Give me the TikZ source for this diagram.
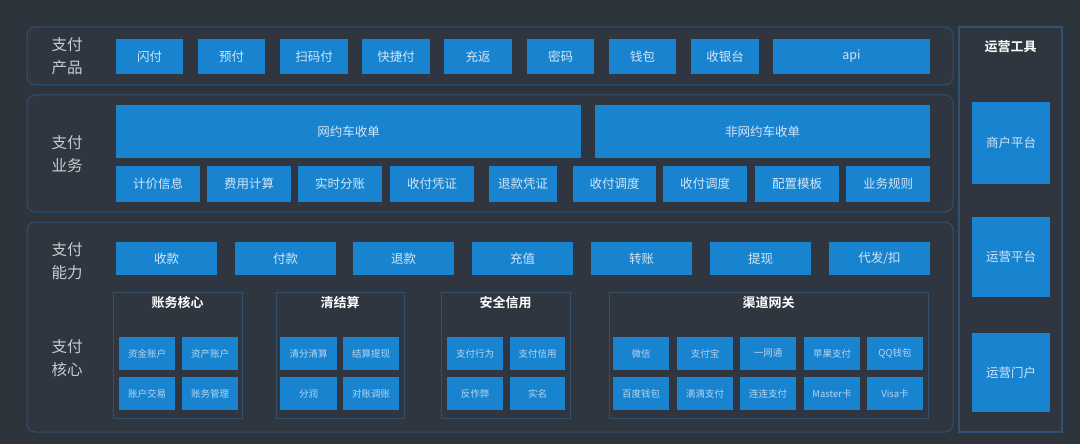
\documentclass[tikz,border=0pt]{standalone}
\usepackage{fontspec}
\setmainfont{Noto Sans CJK SC}
\newfontfamily\cjkb{Noto Sans CJK SC Bold}
\definecolor{bg}{HTML}{2E343C}
\definecolor{pfill}{HTML}{2F363F}
\definecolor{pline}{HTML}{2D5272}
\definecolor{gline}{HTML}{34506A}
\definecolor{bfill}{HTML}{1884D0}
\definecolor{btext}{HTML}{D2E5F6}
\definecolor{ltext}{HTML}{C9CDD2}
\tikzset{
  blk/.style={fill=bfill,text=btext,inner sep=0pt,outer sep=0pt,font=\fontsize{12.5}{14}\selectfont},
  sblk/.style={blk,text=btext!85!bfill,font=\fontsize{9.5}{11}\selectfont},
  panel/.style={draw=pline,line width=1pt,fill=pfill,rounded corners=8pt,inner sep=0pt,outer sep=0pt},
  grp/.style={draw=gline,line width=0.8pt,inner sep=0pt,outer sep=0pt},
  rpanel/.style={draw=pline,line width=1.3pt,fill=pfill,inner sep=0pt,outer sep=0pt},
  lbl/.style={text=ltext,align=center,font=\fontsize{15.5}{23}\selectfont},
  gtitle/.style={text=white,font=\cjkb\fontsize{13}{15}\selectfont},
}
\newcommand\blk[7][blk]{\node[#1,anchor=north west,minimum width={(#5)-(#3)},minimum height={(#6)-(#4)}] (#2) at (#3,#4) {#7};}
\begin{document}
\begin{tikzpicture}[x=1pt,y=-1pt]
\fill[bg] (0,0) rectangle (1080,444);
\useasboundingbox (0,0) rectangle (1080,444);
% panels
\blk[panel]{p1}{27}{27}{953}{85}{}
\blk[panel]{p2}{27}{95}{953}{212}{}
\blk[panel]{p3}{27}{222}{953}{432}{}
\blk[rpanel]{rp}{959}{27}{1062}{432}{}
% labels
\node[lbl] (l1) at (67,56) {支付\\产品};
\node[lbl] (l2) at (67,154) {支付\\业务};
\node[lbl] (l3) at (67,261) {支付\\能力};
\node[lbl] (l4) at (67,358) {支付\\核心};
% row 1
\blk{a1}{116}{39}{183}{74}{闪付}
\blk{a2}{198}{39}{265}{74}{预付}
\blk{a3}{280}{39}{348}{74}{扫码付}
\blk{a4}{362}{39}{430}{74}{快捷付}
\blk{a5}{444}{39}{512}{74}{充返}
\blk{a6}{527}{39}{594}{74}{密码}
\blk{a7}{609}{39}{676}{74}{钱包}
\blk{a8}{691}{39}{759}{74}{收银台}
\blk{a9}{773}{39}{930}{74}{api}
% row 2
\blk{b1}{116}{105}{581}{158}{网约车收单}
\blk{b2}{595}{105}{930}{158}{非网约车收单}
\blk{c1}{116}{166}{200}{202}{计价信息}
\blk{c2}{207}{166}{291}{202}{费用计算}
\blk{c3}{298}{166}{382}{202}{实时分账}
\blk{c4}{390}{166}{474}{202}{收付凭证}
\blk{c5}{489}{166}{557}{202}{退款凭证}
\blk{c6}{573}{166}{656}{202}{收付调度}
\blk{c7}{663}{166}{747}{202}{收付调度}
\blk{c8}{755}{166}{839}{202}{配置模板}
\blk{c9}{846}{166}{930}{202}{业务规则}
% row 3
\blk{d1}{116}{242}{217}{275}{收款}
\blk{d2}{235}{242}{336}{275}{付款}
\blk{d3}{353}{242}{454}{275}{退款}
\blk{d4}{472}{242}{573}{275}{充值}
\blk{d5}{591}{242}{692}{275}{转账}
\blk{d6}{710}{242}{811}{275}{提现}
\blk{d7}{829}{242}{930}{275}{代发/扣}
% groups
\blk[grp]{g1}{113}{292}{242}{418}{}
\blk[grp]{g2}{276}{292}{404}{418}{}
\blk[grp]{g3}{441}{292}{570}{418}{}
\blk[grp]{g4}{609}{292}{928}{418}{}
\node[gtitle] (t1) at (177.5,303) {账务核心};
\node[gtitle] (t2) at (340,303) {清结算};
\node[gtitle] (t3) at (505.5,303) {安全信用};
\node[gtitle] (t4) at (768.5,303) {渠道网关};
% group 1
\blk[sblk]{e1}{119}{337}{175}{370}{资金账户}
\blk[sblk]{e2}{182}{337}{238}{370}{资产账户}
\blk[sblk]{e3}{119}{377}{175}{410}{账户交易}
\blk[sblk]{e4}{182}{377}{238}{410}{账务管理}
% group 2
\blk[sblk]{f1}{280}{337}{337}{370}{清分清算}
\blk[sblk]{f2}{343}{337}{399}{370}{结算提现}
\blk[sblk]{f3}{280}{377}{337}{410}{分润}
\blk[sblk]{f4}{343}{377}{399}{410}{对账调账}
% group 3
\blk[sblk]{h1}{447}{337}{503}{370}{支付行为}
\blk[sblk]{h2}{510}{337}{565}{370}{支付信用}
\blk[sblk]{h3}{447}{377}{503}{410}{反作弊}
\blk[sblk]{h4}{510}{377}{565}{410}{实名}
% group 4
\blk[sblk]{k1}{613}{337}{669}{370}{微信}
\blk[sblk]{k2}{677}{337}{733}{370}{支付宝}
\blk[sblk]{k3}{740}{337}{796}{370}{一网通}
\blk[sblk]{k4}{804}{337}{860}{370}{苹果支付}
\blk[sblk]{k5}{867}{337}{923}{370}{QQ钱包}
\blk[sblk]{m1}{613}{377}{669}{410}{百度钱包}
\blk[sblk]{m2}{677}{377}{733}{410}{滴滴支付}
\blk[sblk]{m3}{740}{377}{796}{410}{连连支付}
\blk[sblk]{m4}{804}{377}{860}{410}{Master卡}
\blk[sblk]{m5}{867}{377}{923}{410}{Visa卡}
% right panel
\node[gtitle] (rt) at (1010.5,47) {运营工具};
\blk{r1}{972}{102}{1050}{184}{商户平台}
\blk{r2}{972}{217}{1050}{297}{运营平台}
\blk{r3}{972}{333}{1050}{412}{运营门户}
\end{tikzpicture}
\end{document}
